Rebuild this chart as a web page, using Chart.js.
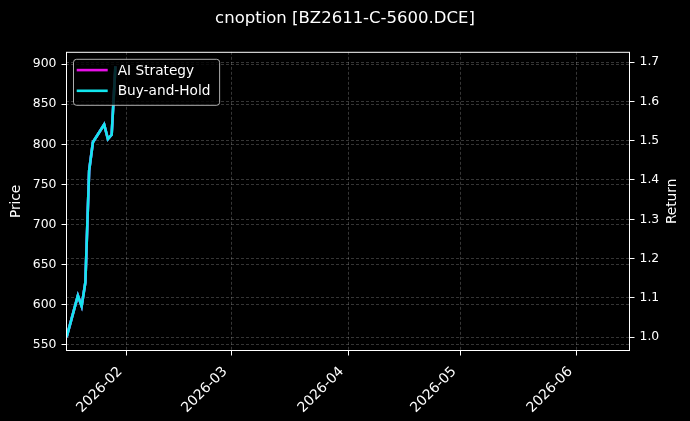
<!DOCTYPE html>
<html lang="en">
<head>
<meta charset="UTF-8">
<title>cnoption [BZ2611-C-5600.DCE]</title>
<script src="https://cdn.jsdelivr.net/npm/chart.js"></script>
<style>
  html, body { margin: 0; padding: 0; background: #000; }
  #wrap { width: 690px; height: 421px; }
</style>
</head>
<body>
<div id="wrap"><canvas id="chart"></canvas></div>
<script>
// values
const dates = ['2026-01-16', '2026-01-19', '2026-01-20', '2026-01-21', '2026-01-22',
               '2026-01-23', '2026-01-26', '2026-01-27', '2026-01-28', '2026-01-29'];
const price = [560, 611.7, 598.4, 628.2, 767.4, 802.6, 824.8, 806.6, 812.2, 897.3];
const aiStrategy = [1.000, 1.106, 1.079, 1.140, 1.424, 1.496, 1.541, 1.504, 1.515, 1.689];
const buyAndHold = [1.000, 1.106, 1.079, 1.140, 1.424, 1.496, 1.541, 1.504, 1.515, 1.689];

const monthTicks = ['2026-02-01', '2026-03-01', '2026-04-01', '2026-05-01', '2026-06-01'];
const priceTicks = [550, 600, 650, 700, 750, 800, 850, 900];
const returnTicks = [1.0, 1.1, 1.2, 1.3, 1.4, 1.5, 1.6, 1.7];

const FONT = 'DejaVu Sans';
const MAGENTA = '#e810e8';
const CYAN = '#12e6ee';
const GRID = 'rgba(255,255,255,0.3)';

Chart.defaults.font.family = FONT;
Chart.defaults.color = '#fff';

const toPts = vals => vals.map((v, i) => ({ x: Date.parse(dates[i]), y: v }));
const setTicks = list => scale => { scale.ticks = list.map(v => ({ value: v })); };

function pad2(n) { return n < 10 ? '0' + n : '' + n; }

// spines, right axis label and the legend box inside the plot
const extras = {
  id: 'extras',
  afterDraw(chart) {
    const { ctx, chartArea: a } = chart;
    ctx.save();
    ctx.strokeStyle = '#fff';
    ctx.lineWidth = 1;
    ctx.strokeRect(a.left + 0.5, a.top + 0.5, a.right - a.left - 1, a.bottom - a.top - 1);

    ctx.fillStyle = '#fff';
    ctx.font = '13.7px "' + FONT + '"';
    ctx.textAlign = 'center';
    ctx.textBaseline = 'middle';
    ctx.save();
    ctx.translate(672, (a.top + a.bottom) / 2);
    ctx.rotate(-Math.PI / 2);
    ctx.fillText('Return', 0, 0);
    ctx.restore();

    // legend
    const items = chart.data.datasets.filter(d => d.inLegend);
    const textW = Math.max(...items.map(d => ctx.measureText(d.label).width));
    const bx = a.left + 7, by = a.top + 7;
    const bw = 44.7 + textW + 8.7, bh = 46;
    ctx.beginPath();
    ctx.roundRect(bx + 0.5, by + 0.5, bw, bh, 3);
    ctx.fillStyle = 'rgba(0,0,0,0.8)';
    ctx.fill();
    ctx.strokeStyle = 'rgba(204,204,204,0.85)';
    ctx.lineWidth = 1;
    ctx.stroke();
    items.forEach((d, i) => {
      const y = by + 11.3 + i * 20.7;
      ctx.beginPath();
      ctx.moveTo(bx + 3.7, y);
      ctx.lineTo(bx + 34.7, y);
      ctx.strokeStyle = d.borderColor;
      ctx.lineWidth = 2.6;
      ctx.stroke();
      ctx.fillStyle = '#fff';
      ctx.textAlign = 'left';
      ctx.fillText(d.label, bx + 44.7, y + 1);
    });
    ctx.restore();
  }
};

const gridOpts = { color: GRID, lineWidth: 0.7, tickColor: '#fff', tickLength: 4.5, tickWidth: 1 };
const borderOpts = { display: false, dash: [3, 2] };

new Chart(document.getElementById('chart'), {
  type: 'line',
  data: {
    datasets: [
      { label: 'Price', data: toPts(price), yAxisID: 'y', borderColor: CYAN,
        borderWidth: 2.6, pointRadius: 0, order: 3, inLegend: false },
      { label: 'AI Strategy', data: toPts(aiStrategy), yAxisID: 'y1', borderColor: MAGENTA,
        borderWidth: 2.6, pointRadius: 0, order: 2, inLegend: true },
      { label: 'Buy-and-Hold', data: toPts(buyAndHold), yAxisID: 'y1', borderColor: CYAN,
        borderWidth: 2.6, pointRadius: 0, order: 1, inLegend: true }
    ]
  },
  options: {
    responsive: true,
    maintainAspectRatio: false,
    animation: false,
    layout: { padding: 0 },
    plugins: {
      legend: { display: false },
      tooltip: { enabled: false },
      title: {
        display: true,
        text: 'cnoption [BZ2611-C-5600.DCE]',
        color: '#fff',
        font: { family: FONT, size: 16.5, weight: 'normal' },
        padding: { top: 9, bottom: 23 }
      }
    },
    scales: {
      x: {
        type: 'linear',
        position: 'bottom',
        min: Date.parse('2026-01-15T20:00:00Z'),
        max: Date.parse('2026-06-15T03:00:00Z'),
        afterBuildTicks: setTicks(monthTicks.map(d => Date.parse(d))),
        afterFit: s => { s.height = 70; },
        border: borderOpts,
        grid: gridOpts,
        ticks: {
          color: '#fff', font: { size: 13.9 }, minRotation: 45, maxRotation: 45,
          autoSkip: false, padding: 8, labelOffset: -6.5,
          callback: v => { const d = new Date(v); return d.getUTCFullYear() + '-' + pad2(d.getUTCMonth() + 1); }
        }
      },
      y: {
        position: 'left',
        min: 542.5,
        max: 915.3,
        afterBuildTicks: setTicks(priceTicks),
        afterFit: s => { s.width = 66; },
        border: borderOpts,
        grid: gridOpts,
        ticks: { color: '#fff', font: { size: 12.4 }, padding: 5 },
        title: { display: true, text: 'Price', color: '#fff', font: { size: 13.7 },
                 padding: { top: 8.5, bottom: 0 } }
      },
      y1: {
        position: 'right',
        min: 0.965,
        max: 1.726,
        afterBuildTicks: setTicks(returnTicks),
        afterFit: s => { s.width = 60; },
        border: borderOpts,
        grid: gridOpts,
        ticks: { color: '#fff', font: { size: 12.4 }, padding: 5,
                 callback: v => v.toFixed(1) }
      }
    }
  },
  plugins: [extras]
});
</script>
</body>
</html>
